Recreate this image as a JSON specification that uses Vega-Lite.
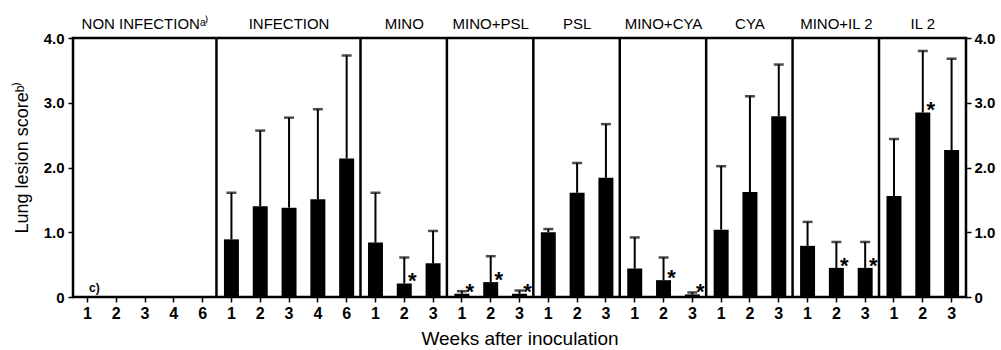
{
  "$schema": "https://vega.github.io/schema/vega-lite/v6.json",
  "width": 893,
  "height": 259,
  "autosize": {"type": "none"},
  "padding": {"left": 73, "top": 38, "right": 35, "bottom": 53},
  "background": "white",
  "config": {
    "view": {"stroke": "black", "strokeWidth": 2.5},
    "font": "Liberation Sans"
  },
  "datasets": {
    "bars": [
      {"key": "NI_1", "value": 0, "hi": null, "sig": false},
      {"key": "NI_2", "value": 0, "hi": null, "sig": false},
      {"key": "NI_3", "value": 0, "hi": null, "sig": false},
      {"key": "NI_4", "value": 0, "hi": null, "sig": false},
      {"key": "NI_6", "value": 0, "hi": null, "sig": false},
      {"key": "INF_1", "value": 0.89, "hi": 1.61, "sig": false},
      {"key": "INF_2", "value": 1.40, "hi": 2.57, "sig": false},
      {"key": "INF_3", "value": 1.38, "hi": 2.77, "sig": false},
      {"key": "INF_4", "value": 1.51, "hi": 2.90, "sig": false},
      {"key": "INF_6", "value": 2.14, "hi": 3.73, "sig": false},
      {"key": "MINO_1", "value": 0.84, "hi": 1.61, "sig": false},
      {"key": "MINO_2", "value": 0.21, "hi": 0.61, "sig": true},
      {"key": "MINO_3", "value": 0.52, "hi": 1.02, "sig": false},
      {"key": "MP_1", "value": 0.05, "hi": 0.09, "sig": true},
      {"key": "MP_2", "value": 0.23, "hi": 0.63, "sig": true},
      {"key": "MP_3", "value": 0.05, "hi": 0.10, "sig": true},
      {"key": "PSL_1", "value": 1.00, "hi": 1.05, "sig": false},
      {"key": "PSL_2", "value": 1.61, "hi": 2.07, "sig": false},
      {"key": "PSL_3", "value": 1.84, "hi": 2.67, "sig": false},
      {"key": "MC_1", "value": 0.44, "hi": 0.92, "sig": false},
      {"key": "MC_2", "value": 0.26, "hi": 0.61, "sig": true},
      {"key": "MC_3", "value": 0.04, "hi": 0.07, "sig": true},
      {"key": "CYA_1", "value": 1.04, "hi": 2.02, "sig": false},
      {"key": "CYA_2", "value": 1.62, "hi": 3.10, "sig": false},
      {"key": "CYA_3", "value": 2.79, "hi": 3.59, "sig": false},
      {"key": "MI_1", "value": 0.79, "hi": 1.16, "sig": false},
      {"key": "MI_2", "value": 0.45, "hi": 0.85, "sig": true},
      {"key": "MI_3", "value": 0.45, "hi": 0.85, "sig": true},
      {"key": "IL2_1", "value": 1.56, "hi": 2.44, "sig": false},
      {"key": "IL2_2", "value": 2.85, "hi": 3.80, "sig": true},
      {"key": "IL2_3", "value": 2.27, "hi": 3.68, "sig": false}
    ],
    "panels": [
      {"title": "NON\u00a0INFECTIONᵃ⁾", "center": "NI_3", "start": "NI_1"},
      {"title": "INFECTION", "center": "INF_3", "start": "INF_1"},
      {"title": "MINO", "center": "MINO_2", "start": "MINO_1"},
      {"title": "MINO+PSL", "center": "MP_2", "start": "MP_1"},
      {"title": "PSL", "center": "PSL_2", "start": "PSL_1"},
      {"title": "MINO+CYA", "center": "MC_2", "start": "MC_1"},
      {"title": "CYA", "center": "CYA_2", "start": "CYA_1"},
      {"title": "MINO+IL 2", "center": "MI_2", "start": "MI_1"},
      {"title": "IL 2", "center": "IL2_2", "start": "IL2_1"}
    ]
  },
  "resolve": {"axis": {"y": "independent"}},
  "layer": [
    {
      "data": {"name": "bars"},
      "mark": {"type": "bar", "color": "black"},
      "encoding": {
        "x": {
          "field": "key",
          "type": "nominal",
          "scale": {
            "domain": ["NI_1","NI_2","NI_3","NI_4","NI_6","INF_1","INF_2","INF_3","INF_4","INF_6","MINO_1","MINO_2","MINO_3","MP_1","MP_2","MP_3","PSL_1","PSL_2","PSL_3","MC_1","MC_2","MC_3","CYA_1","CYA_2","CYA_3","MI_1","MI_2","MI_3","IL2_1","IL2_2","IL2_3"],
            "paddingInner": 0.48,
            "paddingOuter": 0.24
          },
          "axis": {
            "title": "Weeks after inoculation",
            "labelExpr": "split(datum.value,'_')[1]",
            "labelAngle": 0,
            "domain": false,
            "grid": false,
            "tickSize": 5,
            "tickWidth": 1.5,
            "tickColor": "black",
            "labelPadding": 3,
            "labelFont": "Liberation Sans",
            "labelFontWeight": "bold",
            "labelFontSize": 16,
            "labelColor": "black",
            "titleFont": "Liberation Sans",
            "titleFontWeight": "normal",
            "titleFontSize": 19,
            "titleColor": "black",
            "titleBaseline": "alphabetic",
            "titleY": 47
          }
        },
        "y": {
          "field": "value",
          "type": "quantitative",
          "scale": {"domain": [0, 4], "nice": false},
          "axis": {
            "values": [0, 1, 2, 3, 4],
            "labelExpr": "datum.value == 0 ? '0' : format(datum.value, '.1f')",
            "domain": false,
            "grid": false,
            "tickSize": 5,
            "tickWidth": 1.5,
            "tickColor": "black",
            "labelPadding": 4,
            "labelFont": "Liberation Sans",
            "labelFontWeight": "bold",
            "labelFontSize": 15,
            "labelColor": "black",
            "title": "Lung lesion scoreᵇ⁾",
            "titleFont": "Liberation Sans",
            "titleFontWeight": "normal",
            "titleFontSize": 18,
            "titleColor": "black",
            "titleX": -51,
            "titleY": 119,
            "titleAlign": "center",
            "titleBaseline": "middle",
            "titleAngle": -90
          }
        }
      }
    },
    {
      "data": {"name": "bars"},
      "transform": [{"filter": "datum.hi != null"}],
      "mark": {"type": "rule", "color": "black", "strokeWidth": 2},
      "encoding": {
        "x": {"field": "key", "type": "nominal"},
        "y": {
          "field": "value",
          "type": "quantitative",
          "axis": {
            "orient": "right",
            "values": [0, 1, 2, 3, 4],
            "labelExpr": "datum.value == 0 ? '0' : format(datum.value, '.1f')",
            "domain": false,
            "grid": false,
            "tickSize": 5,
            "tickWidth": 1.5,
            "tickColor": "black",
            "labelPadding": 3,
            "labelFont": "Liberation Sans",
            "labelFontWeight": "bold",
            "labelFontSize": 15,
            "labelColor": "black",
            "title": null
          }
        },
        "y2": {"field": "hi"}
      }
    },
    {
      "data": {"name": "bars"},
      "transform": [{"filter": "datum.hi != null"}],
      "mark": {"type": "tick", "color": "black", "thickness": 2.5, "size": 10},
      "encoding": {
        "x": {"field": "key", "type": "nominal"},
        "y": {"field": "hi", "type": "quantitative", "axis": null}
      }
    },
    {
      "data": {"name": "bars"},
      "transform": [{"filter": "datum.sig"}],
      "mark": {"type": "text", "text": "*", "color": "black", "fontSize": 22, "fontWeight": "bold", "dx": 8, "baseline": "alphabetic", "dy": 5},
      "encoding": {
        "x": {"field": "key", "type": "nominal"},
        "y": {"field": "value", "type": "quantitative", "axis": null}
      }
    },
    {
      "data": {"name": "panels"},
      "transform": [{"filter": "datum.start != 'NI_1'"}],
      "mark": {"type": "rule", "color": "black", "strokeWidth": 2.5},
      "encoding": {
        "x": {"field": "start", "type": "nominal", "bandPosition": -0.5}
      }
    },
    {
      "data": {"name": "panels"},
      "mark": {"type": "text", "color": "black", "fontSize": 15, "baseline": "middle", "dy": -14},
      "encoding": {
        "x": {"field": "center", "type": "nominal"},
        "y": {"datum": 4, "type": "quantitative", "axis": null},
        "text": {"field": "title"}
      }
    },
    {
      "data": {"values": [{"key": "NI_1", "note": "c)"}]},
      "mark": {"type": "text", "color": "black", "fontSize": 12, "fontWeight": "bold", "dx": 7, "dy": -9, "baseline": "middle"},
      "encoding": {
        "x": {"field": "key", "type": "nominal"},
        "y": {"datum": 0, "type": "quantitative", "axis": null},
        "text": {"field": "note"}
      }
    }
  ]
}
